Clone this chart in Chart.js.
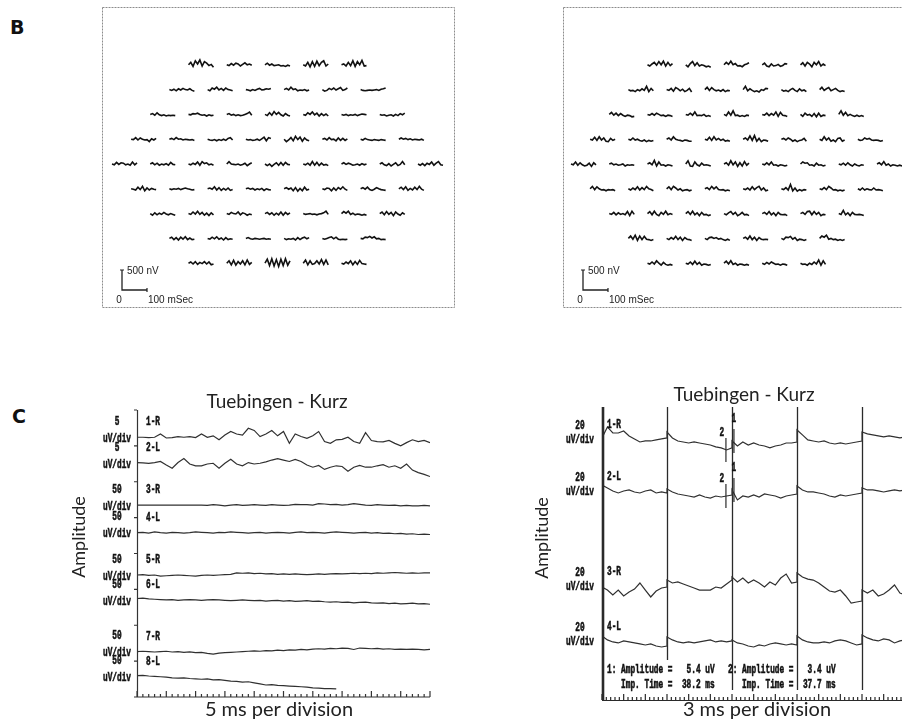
<!DOCTYPE html>
<html>
<head>
<meta charset="utf-8">
<title>mfERG and PERG recordings</title>
<script src="https://cdn.jsdelivr.net/npm/chart.js@4.4.1/dist/chart.umd.min.js"></script>
<style>
  html, body { margin: 0; padding: 0; background: #fff; }
  #page { position: relative; width: 902px; height: 721px; overflow: hidden; }
  #page canvas { position: absolute; }
  .panel-letter { position: absolute; font: bold 19px "DejaVu Sans", Arial, sans-serif; color: #111; line-height: 19px; }
</style>
</head>
<body>
<div id="page">
  <div class="panel-letter" style="left:10px;top:18px">B</div>
  <div class="panel-letter" style="left:12px;top:407px">C</div>
  <canvas id="mfLeft" width="353" height="301" style="left:102px;top:7px"></canvas>
  <canvas id="mfRight" width="353" height="301" style="left:563px;top:7px"></canvas>
  <canvas id="pLeft" width="460" height="361" style="left:0;top:360px"></canvas>
  <canvas id="pRight" width="480" height="361" style="left:460px;top:360px"></canvas>
</div>
<script>
// ---- B: multifocal responses in nV, one array per hexagon (100 ms each), rows top -> bottom
const mfLeftRows = [
  [[0,60,-40,100,20,120,-30,80,40,-20,10,-60],[0,-20,30,-10,40,20,-30,10,50,0,20,-10],[0,40,-10,20,-20,-10,0,-30,-20,-40,-10,-30],[0,-30,60,-50,80,-40,90,-20,60,100,-30,20],[0,20,-30,60,-20,100,-40,80,0,110,-30,-20]],
  [[0,-20,10,-30,20,-10,30,0,-10,20,-20,-40],[0,-30,40,10,60,-10,30,-20,40,0,-10,-30],[0,-10,-30,0,-20,10,30,-10,0,20,10,30],[0,30,-10,60,0,20,-30,-10,-20,0,-30,-10],[0,-40,-20,30,0,40,-10,20,50,-20,0,40],[0,-20,-30,-20,-10,-20,-10,0,-20,10,20,40]],
  [[0,20,-20,40,-10,-30,-10,-40,-20,-30,-20,-30],[0,-10,20,10,30,0,-20,-10,-40,-10,-30,-20],[0,20,-20,0,-30,-10,-30,-20,0,20,60,-20],[0,-30,40,-20,70,0,50,-10,-40,20,-20,-40],[0,-20,40,0,60,-10,30,-40,20,-30,10,-40],[0,-20,0,-30,-10,-20,0,-30,-10,10,0,-10],[0,-20,-10,-40,-20,-10,-40,0,-30,20,-10,30]],
  [[0,-10,40,-20,30,0,-20,-10,-60,10,-20,20],[0,20,-10,40,0,10,-20,0,-10,-20,-10,-30],[0,-20,-30,-10,-40,-10,-30,0,-30,20,40,-20],[0,-20,-10,-30,-20,0,-30,10,50,-40,40,20],[0,-60,-20,40,-40,70,-10,50,-50,30,-20,-40],[0,20,-20,40,-10,0,-40,30,-30,20,-30,10],[0,-20,20,-10,-20,-30,-10,-20,-30,-10,-20,-30],[0,30,0,20,-10,10,-20,0,-10,-20,0,-30]],
  [[0,-20,40,-10,30,20,-20,0,-30,50,-20,30],[0,30,-20,20,-30,0,-20,10,-30,40,-10,-20],[0,-20,20,-10,50,-30,60,10,30,-20,0,-30],[0,60,0,-10,-20,0,-30,-10,20,-40,0,30],[0,-40,0,-60,-10,30,-30,40,-30,40,-10,-20],[0,-20,20,-30,60,-30,40,-40,20,-30,-10,-40],[0,30,-10,20,0,-30,-20,0,-30,10,-20,0],[0,30,-20,-40,10,-50,-10,30,-40,-10,60,-20],[0,-30,10,-40,20,-10,50,-30,20,60,-20,-30]],
  [[0,-10,-30,40,-20,60,-50,20,-30,10,-10,-20],[0,-20,0,-10,10,-20,0,20,0,-10,-30,-20],[0,20,-10,50,-30,30,-40,10,-30,20,-40,-20],[0,20,-10,10,-30,0,-20,10,-40,0,-20,-30],[0,30,-10,20,-50,30,-60,10,-50,40,-30,-10],[0,-20,20,10,-50,20,-40,30,-10,50,-10,-40],[0,30,-10,40,-20,-40,-10,30,0,-20,-30,-40],[0,40,-20,50,-40,10,-30,40,-20,60,-10,-40]],
  [[0,-40,20,-30,10,-20,30,-10,-30,0,-20,-40],[0,-20,40,-10,60,-20,30,-40,10,-50,20,-30],[0,-20,30,0,-10,40,-30,20,0,-40,-10,-30],[0,30,-20,20,-40,10,-30,40,-40,30,-20,20],[0,-20,-10,0,-20,-10,-30,-10,0,20,60,-20],[0,50,10,60,-20,10,-30,-10,-20,-40,-20,-40],[0,40,-30,50,-20,30,-50,40,-10,-40,20,-20]],
  [[0,30,-30,20,-40,30,-20,40,-30,10,-30,-20],[0,-20,30,-10,40,-20,10,-40,20,-30,-10,-20],[0,20,-10,-20,0,-10,-20,-10,0,-20,-10,-20],[0,-30,-10,-20,0,-40,20,-30,10,30,-10,20],[0,-20,0,20,40,-10,30,-20,-30,-20,-30,-20],[0,-10,30,20,50,10,40,-10,0,-30,-20,-30]],
  [[0,30,-20,40,-30,20,-10,40,-20,30,-40,-20],[0,60,-40,70,-50,40,-20,60,-40,80,-30,20],[0,100,-60,110,-70,90,-80,100,-60,110,-50,60],[0,80,-40,60,-30,-10,60,-20,90,-30,80,-40],[0,-20,30,-10,60,-40,40,-30,70,-10,-20,-30]]
];
const mfRightRows = [
  [[0,-30,20,60,-10,80,0,90,-30,60,-20,30],[0,-50,30,80,-20,50,-30,0,-20,-50,-30,-60],[0,60,10,90,0,30,-30,-20,-50,0,20,50],[0,40,-30,-50,20,-30,-20,10,-40,-20,30,20],[0,50,-30,60,20,-50,60,0,80,-30,20,-20]],
  [[0,-30,-20,-50,0,-30,20,-20,80,-50,30,-30],[0,-20,30,-40,50,20,-30,10,-50,-20,30,-60],[0,60,-20,50,0,-30,-10,-40,0,-50,-20,-30],[0,80,-30,20,-20,-50,-30,-60,0,-20,30,20],[0,-40,-20,-50,0,30,-20,-50,20,-30,-10,-50],[0,60,-20,20,50,-30,0,30,-20,-50,-30,-50]],
  [[0,50,-20,30,-30,20,-20,-50,-20,-30,-60,-50],[0,-20,20,-20,30,0,-30,-20,-50,-20,-30,-50],[0,-20,30,-20,60,-30,-20,-30,0,-50,-30,-50],[0,-30,60,-20,90,-30,-20,-50,-30,-50,-20,-30],[0,-20,30,-30,20,-20,60,-50,50,-20,-30,-50],[0,-50,30,-20,0,-50,20,-60,30,-50,-20,-30],[0,90,-20,50,-30,0,-30,-50,-20,-50,-30,-50]],
  [[0,-20,50,-30,60,-20,30,-50,-60,20,-30,0],[0,-20,30,-20,0,-30,-50,-20,-60,-30,-50,-30],[0,30,-20,60,0,-20,-30,-50,-20,-30,-50,-50],[0,-20,50,-30,60,-20,20,-30,0,-50,-30,-50],[0,30,-20,80,-30,90,-50,20,-60,-20,-30,-50],[0,20,-20,30,0,-50,-20,-60,-30,-20,20,-50],[0,-30,60,-20,30,-50,-20,-60,20,30,-50,-20],[0,-30,-20,30,0,20,-20,-30,-20,-30,-50,-30]],
  [[0,-20,50,-30,30,-20,-50,-30,20,-60,30,-20],[0,20,-20,0,-30,-20,0,-50,-20,-30,-20,-30],[0,30,-20,90,-50,50,-30,-20,-50,-20,-30,-50],[0,80,-50,-60,50,-20,-50,20,-30,-20,-30,-50],[0,30,-30,80,-20,50,-60,30,-50,60,-30,20],[0,-20,30,-20,50,-30,-20,-50,-20,-30,-50,-30],[0,50,20,30,-30,-20,-50,20,-30,-20,-50,-30],[0,-20,20,-30,30,-20,-50,0,-30,-50,-20,-30],[0,30,-20,60,-30,0,-50,-20,-30,-50,-30,-50]],
  [[0,60,-20,50,0,-30,-20,-50,-20,-30,-20,-50],[0,-30,20,-20,50,-30,30,-20,60,0,-20,-50],[0,50,-20,60,20,-30,0,-50,-30,-20,-50,-30],[0,30,-20,60,0,50,-20,-30,-20,-50,-30,-50],[0,-20,20,-30,50,-20,30,60,-30,20,-50,-30],[0,-20,30,-30,110,-50,20,-60,-20,-50,-20,-30],[0,-20,30,-20,60,20,-30,-20,-50,-30,-50,-30],[0,-30,20,-30,0,-20,-30,20,-30,-20,-30,-50]],
  [[0,-20,30,-30,20,-20,0,-30,50,-50,60,-20],[0,50,-30,60,-20,-50,30,-20,60,-30,0,-20],[0,50,-20,60,-30,20,-50,30,-30,-20,-50,-30],[0,-30,20,50,-20,30,-50,-20,30,-30,-20,-50],[0,30,-20,50,-30,20,-50,30,-20,-30,-20,-50],[0,30,-20,50,60,-30,50,-20,30,-50,-20,-30],[0,-20,80,-30,20,-50,30,-20,-30,-20,-30,-50]],
  [[0,60,-20,80,-50,60,-30,50,-20,-30,-50,-30],[0,-30,20,-20,50,-30,30,-50,20,-20,-30,-50],[0,-30,20,30,0,20,-20,0,-30,-50,-20,-50],[0,30,-20,60,-30,30,-50,20,-20,-30,-20,-30],[0,-30,30,20,50,-20,20,-50,-20,-30,-50,-30],[0,60,30,80,-20,0,-30,-20,-50,-30,-50,-30]],
  [[0,-20,30,-20,60,0,-50,20,-30,-50,-30,-50],[0,-20,30,-30,50,-30,20,-50,-20,-30,-50,-30],[0,50,-20,60,-30,0,-50,-20,-30,-50,-30,-50],[0,-30,20,-20,30,0,-30,-20,-50,-20,-30,-50],[0,-30,-20,-50,0,-30,30,-20,80,-50,60,-30]]
];
const TRACE_MS = 100;
const SCALE_BAR_MS = 100;
const SCALE_BAR_NV = 500;

// ---- C left: 5 ms per division, uV sampled every 1 ms
const leftChannels = ['1-R', '2-L', '3-R', '4-L', '5-R', '6-L', '7-R', '8-L'];
const leftGains = [5, 5, 50, 50, 50, 50, 50, 50];
const left1R = [0,0,-0.1,0,0.9,-0.2,-0.1,0.2,0,0.2,-0.1,0.9,0,0.4,-0.7,0.6,1.6,0.9,0.6,2.5,1.9,0.2,0.9,1.9,0.4,1.6,-1.7,0.9,0.2,-0.3,0.4,1.6,-1.2,-1.7,-0.7,-0.6,0,-1.2,-1.7,1.3,-0.9,-1.2,-1.3,-0.9,-1.7,-2.4,-1.5,-0.7,-1.2,-0.9,-1.5];
const left2L = [0.2,0.1,0,0.2,0.5,-0.5,-1.4,0.2,1.3,-0.2,-0.7,-0.7,-0.2,0,-1.4,0,1.1,-0.2,-0.7,0.2,-0.2,0,0.4,0.9,1.3,0.9,0.5,1.1,0.5,-0.5,-1.1,-0.6,-1.7,-1.1,-0.7,-0.9,-2.2,-1.1,-0.6,-1.1,-1.1,-0.7,-0.4,-1.1,-0.7,-1.4,-0.2,-1.9,-2.6,-3.1,-3.7];
const left3R = [0,0,0,0,0,0,0,0,0,0,0,0,-1,1,0,-2,0,1,-1,0,1,0,-1,1,0,-1,0,2,1,1,0,4,3,1,2,0,1,4,2,0,-1,1,0,-1,0,-2,-1,-2,-2,-1,-2];
const left4L = [0,1,-1,2,0,-1,1,0,-1,0,2,1,0,-1,1,0,2,1,0,-1,0,1,-1,0,1,0,-1,1,2,0,1,0,-1,1,2,1,0,-1,0,1,-1,0,-2,-1,-3,-2,-4,-3,-5,-4,-5];
const left5R = [0,1,-1,0,-3,-2,-1,0,-1,-2,-3,-1,0,-1,0,1,2,6,5,6,4,5,3,4,2,3,2,3,2,1,2,3,2,3,4,3,4,5,4,5,4,6,5,6,7,6,5,6,5,6,6];
const left6L = [4,5,3,2,1,0,1,-1,0,1,0,-1,0,1,0,-1,-2,-1,0,-1,-2,-1,-3,-2,-1,-3,-2,-4,-3,-2,-4,-3,-5,-6,-5,-7,-6,-8,-7,-6,-8,-9,-8,-10,-9,-11,-10,-9,-11,-10,-12];
const left7R = [0,1,0,-1,0,1,-1,0,-2,-1,-3,-2,-5,-7,-4,-3,-2,-1,0,1,2,1,3,2,4,3,5,4,6,5,7,8,7,9,8,10,9,6,10,9,8,9,7,8,6,7,6,7,6,5,6];
const left8L = [3,4,2,1,0,-1,-3,-4,-3,-5,-6,-7,-6,-9,-8,-10,-12,-13,-15,-14,-17,-20,-23,-22,-24,-25,-26,-27,-28,-29,-31,-32,-33,-33,-34];
const leftTraces = [left1R, left2L, left3R, left4L, left5R, left6L, left7R, left8L];

// ---- C right: 3 ms per division, uV; one sub-array per 3 ms sweep, sampled every 0.25 ms
const rightChannels = ['1-R', '2-L', '3-R', '4-L'];
const rightGains = [20, 20, 20, 20];
const right1R = [
  [2.2,14.2,7.6,7.6,9.8,4.4,1.1,-2.2,-1.1,-1.1,0,1.1,2.2],
  [8.7,2.2,-1.1,-2.2,-3.3,-2.2,-3.3,-4.4,-5.5,-7.6,-8.7,-10.9,-8.7],
  [-1.1,-6.6,-2.2,-5.5,-3.3,-5.5,-6.6,-8.7,-6.6,-5.5,-3.3,-3.3,-2.2],
  [10.9,5.5,0,-1.1,-2.2,-1.1,-3.3,-4.4,-3.3,-4.4,-3.3,-2.2,-1.1],
  [8.7,6.6,5.5,4.4,3.3,4.4,3.3,2.2,3.3,2.2,3.3,2.2,2.2]
];
const right2L = [
  [7.6,4.4,1.1,-1.1,1.1,2.2,0,-1.1,1.1,2.2,-1.1,0,-1.1],
  [3.3,0,-2.2,-3.3,-4.4,-5.5,-3.3,-5.5,-6.6,-4.4,-5.5,-4.4,-3.3],
  [2.2,-8.7,-4.4,-5.5,-3.3,-5.5,-2.2,-3.3,-4.4,-6.6,-4.4,-3.3,-2.2],
  [6.6,2.2,0,0,-1.1,-2.2,-4.4,-5.5,-3.3,-4.4,-3.3,-2.2,-1.1],
  [4.4,2.2,2.2,1.1,0,1.1,2.2,1.1,2.2,1.1,2.2,1.1,2.2]
];
const right3R = [
  [0,-3.3,-8.7,-3.3,-9.8,-5.5,-2.2,4.4,-3.3,-10.9,-4.4,-1.1,0],
  [7.6,4.4,5.5,3.3,1.1,-1.1,-3.3,-3.3,-3.3,0,-1.1,3.3,7.6],
  [10.9,5.5,9.8,4.4,7.6,4.4,0,5.5,2.2,9.8,14.2,4.4,5.5],
  [15.3,10.9,8.7,7.6,4.4,0,-4.4,-5.5,-3.3,-9.8,-17.5,-16.4,-15.3],
  [-3.3,-6.6,-3.3,-9.8,-7.6,-3.3,2.2,-6.6,-8.7,-7.6,-5.5,-7.6,-6.6]
];
const right4L = [
  [6.6,2.2,0,-1.1,1.1,0,-1.1,-2.2,-3.3,-2.2,-4.4,-5.5,-4.4],
  [5.5,2.2,0,-1.1,0,-1.1,0,1.1,2.2,0,1.1,0,1.1],
  [2.2,-1.1,-2.2,-4.4,-5.5,-3.3,-4.4,-2.2,-1.1,-2.2,-3.3,-2.2,-3.3],
  [6.6,2.2,0,-1.1,-1.1,0,-1.1,1.1,2.2,1.1,-1.1,-3.3,-2.2],
  [7.6,4.4,2.2,1.1,3.3,2.2,-1.1,1.1,2.2,1.1,2.2,0,1.1]
];
const rightTraces = [right1R, right2L, right3R, right4L];
const cursorNames = ['1', '2'];
const cursorAt = [6.09, 5.72];        // ms on screen
const cursorAmps = [5.4, 3.4];        // uV
const cursorImpTimes = [38.2, 37.7];  // ms

// ---- layout
const MF = { widthMs: 1412, heightNv: 7525, gridYNv: 3600, colGapMs: 153, rowGapNv: 620, barXMs: 80, barYNv: 450 };
const LEFT_STEP_MS = 1, LEFT_SPAN_MS = 50;
const SWEEP_MS = 3, RIGHT_STEP_MS = 0.25, RIGHT_SPAN_MS = 15;
const leftRowsDiv = [14.48, 13.03, 10.70, 9.16, 6.80, 5.41, 2.53, 1.13];
const rightRowsDiv = [14.2, 11.36, 6.17, 3.17];
const INK = '#222';
const TITLE_FONT = '19px Lato, "Open Sans", sans-serif';

function line(points, color, width) {
  return { data: points, borderColor: color, borderWidth: width, pointRadius: 0, fill: false, tension: 0 };
}

function baseOptions(xmax, ymax, padding) {
  return {
    responsive: false, animation: false, events: [],
    layout: { padding },
    plugins: { legend: { display: false }, tooltip: { enabled: false }, title: { display: false } },
    scales: {
      x: { type: 'linear', display: false, min: 0, max: xmax },
      y: { type: 'linear', display: false, min: 0, max: ymax }
    }
  };
}

// narrow, tall bold mono like the recorder's printout
function monoText(ctx, text, x, y, align) {
  ctx.save();
  ctx.translate(x, y);
  ctx.scale(0.78, 1.28);
  ctx.font = 'bold 10px "Liberation Mono", "DejaVu Sans Mono", monospace';
  ctx.textAlign = align;
  ctx.textBaseline = 'middle';
  ctx.fillStyle = '#111';
  ctx.strokeStyle = '#111';
  ctx.lineWidth = 0.45;
  ctx.fillText(text, 0, 0);
  ctx.strokeText(text, 0, 0);
  ctx.restore();
}

function axisTexts(ctx, a, title, titleDx, titleDy, xLabel, xLabelDx, xLabelDy, ampDx, ampY) {
  ctx.fillStyle = INK;
  ctx.font = TITLE_FONT;
  ctx.textAlign = 'center';
  ctx.textBaseline = 'middle';
  ctx.fillText(title, a.left + titleDx, a.top + titleDy);
  ctx.font = '20px Lato, "Open Sans", sans-serif';
  ctx.fillText(xLabel, a.left + xLabelDx, a.bottom + xLabelDy);
  ctx.save();
  ctx.translate(a.left + ampDx, ampY);
  ctx.rotate(-Math.PI / 2);
  ctx.font = '18px Lato, "Open Sans", sans-serif';
  ctx.fillText('Amplitude', 0, 0);
  ctx.restore();
}

// ---- B panels
function mfChart(id, rows, centerMs) {
  const datasets = [];
  const mid = (rows.length - 1) / 2;
  rows.forEach((row, r) => {
    row.forEach((trace, c) => {
      const x0 = centerMs + (c - (row.length - 1) / 2) * MF.colGapMs - TRACE_MS / 2;
      const y0 = MF.gridYNv + (mid - r) * MF.rowGapNv;
      const dt = TRACE_MS / (trace.length - 1);
      datasets.push(line(trace.map((v, i) => ({ x: x0 + i * dt, y: y0 + v })), '#111', 1.6));
    });
  });
  datasets.push(line([
    { x: MF.barXMs, y: MF.barYNv + SCALE_BAR_NV },
    { x: MF.barXMs, y: MF.barYNv },
    { x: MF.barXMs + SCALE_BAR_MS, y: MF.barYNv }
  ], INK, 1.3));

  return new Chart(document.getElementById(id), {
    type: 'line',
    data: { datasets },
    options: baseOptions(MF.widthMs, MF.heightNv, 0),
    plugins: [{
      id: 'mfDecor',
      afterDatasetsDraw(chart) {
        const { ctx, chartArea: a, scales: { x, y } } = chart;
        ctx.save();
        ctx.strokeStyle = '#8c8c8c';
        ctx.lineWidth = 1;
        ctx.setLineDash([2, 1]);
        ctx.strokeRect(a.left + 0.5, a.top + 0.5, a.width - 1, a.height - 1);
        ctx.setLineDash([]);
        const bx = x.getPixelForValue(MF.barXMs), by = y.getPixelForValue(MF.barYNv);
        const bt = y.getPixelForValue(MF.barYNv + SCALE_BAR_NV), br = x.getPixelForValue(MF.barXMs + SCALE_BAR_MS);
        ctx.strokeStyle = INK;
        ctx.lineWidth = 1.2;
        ctx.beginPath();
        ctx.moveTo(bx - 2, bt); ctx.lineTo(bx + 2, bt);
        ctx.moveTo(br, by - 2); ctx.lineTo(br, by + 2);
        ctx.stroke();
        ctx.fillStyle = INK;
        ctx.font = '10px "Liberation Sans", Arial, sans-serif';
        ctx.textBaseline = 'middle';
        ctx.textAlign = 'left';
        ctx.fillText(SCALE_BAR_NV + ' nV', bx + 5, bt + 1);
        ctx.textAlign = 'center';
        ctx.fillText('0', bx - 3, by + 10);
        ctx.textAlign = 'left';
        ctx.fillText(SCALE_BAR_MS + ' mSec', br + 1, by + 10);
        ctx.restore();
      }
    }]
  });
}

mfChart('mfLeft', mfLeftRows, 702);
mfChart('mfRight', mfRightRows, 694);

// ---- C left panel
new Chart(document.getElementById('pLeft'), {
  type: 'line',
  data: {
    datasets: leftTraces.map((tr, k) =>
      line(tr.map((v, i) => ({ x: i * LEFT_STEP_MS, y: leftRowsDiv[k] + v / leftGains[k] })), '#303030', 1.2))
  },
  options: baseOptions(LEFT_SPAN_MS, 16, { left: 137, right: 30, top: 50, bottom: 24 }),
  plugins: [{
    id: 'leftDecor',
    afterDatasetsDraw(chart) {
      const { ctx, chartArea: a, scales: { x, y } } = chart;
      ctx.save();
      ctx.strokeStyle = '#333';
      ctx.lineWidth = 1.2;
      ctx.beginPath();
      ctx.moveTo(a.left + 0.5, a.top); ctx.lineTo(a.left + 0.5, a.bottom);
      ctx.lineTo(a.right, a.bottom);
      for (let d = 0; d <= 16; d += 2) {
        const py = y.getPixelForValue(d);
        ctx.moveTo(a.left - 3, py); ctx.lineTo(a.left, py);
      }
      for (let t = 0; t <= LEFT_SPAN_MS; t += 1) {
        const px = x.getPixelForValue(t);
        ctx.moveTo(px, a.bottom); ctx.lineTo(px, a.bottom - (t % 5 === 0 ? 6 : 3));
      }
      ctx.stroke();
      leftChannels.forEach((name, k) => {
        const py = y.getPixelForValue(leftRowsDiv[k]);
        monoText(ctx, String(leftGains[k]), a.left - 20, py - 15.5, 'center');
        monoText(ctx, 'uV/div', a.left - 20, py + 1.5, 'center');
        monoText(ctx, name, a.left + 9, py - 15, 'left');
      });
      axisTexts(ctx, a, 'Tuebingen - Kurz', 140, -8, '5 ms per division', 142, 13, -58, 177);
      ctx.restore();
    }
  }]
});

// ---- C right panel
function rightPoints(sweeps, k) {
  return sweeps.flatMap((sw, s) => sw.map((v, i) => ({
    x: s * SWEEP_MS + i * RIGHT_STEP_MS,
    y: rightRowsDiv[k] + v / rightGains[k]
  })));
}
function valueAt(sweeps, t) {
  const s = Math.min(Math.floor(t / SWEEP_MS), sweeps.length - 1);
  const i = Math.round((t - s * SWEEP_MS) / RIGHT_STEP_MS);
  return sweeps[s][i];
}

new Chart(document.getElementById('pRight'), {
  type: 'line',
  data: { datasets: rightTraces.map((sw, k) => line(rightPoints(sw, k), '#303030', 1.2)) },
  options: baseOptions(RIGHT_SPAN_MS, 16, { left: 142, right: 13, top: 47, bottom: 21 }),
  plugins: [{
    id: 'rightGrid',
    beforeDatasetsDraw(chart) {
      const { ctx, chartArea: a, scales: { x } } = chart;
      ctx.save();
      ctx.strokeStyle = '#2a2a2a';
      ctx.lineWidth = 1.3;
      ctx.beginPath();
      for (let t = SWEEP_MS; t < RIGHT_SPAN_MS; t += SWEEP_MS) {
        const px = Math.round(x.getPixelForValue(t)) + 0.5;
        ctx.moveTo(px, a.top); ctx.lineTo(px, a.bottom - 10);
      }
      ctx.stroke();
      ctx.restore();
    }
  }, {
    id: 'rightDecor',
    afterDatasetsDraw(chart) {
      const { ctx, chartArea: a, scales: { x, y } } = chart;
      ctx.save();
      ctx.strokeStyle = '#2a2a2a';
      ctx.lineWidth = 1.2;
      ctx.beginPath();
      ctx.moveTo(a.left, a.bottom + 0.5); ctx.lineTo(a.right, a.bottom + 0.5);
      for (let k = 0; k * 0.2 <= RIGHT_SPAN_MS + 1e-6; k++) {
        const px = x.getPixelForValue(k * 0.2);
        ctx.moveTo(px, a.bottom); ctx.lineTo(px, a.bottom - (k % 5 === 0 ? 6 : 3));
      }
      ctx.stroke();
      ctx.lineWidth = 2.6;
      ctx.beginPath();
      ctx.moveTo(a.left + 1, a.top); ctx.lineTo(a.left + 1, a.bottom);
      ctx.stroke();

      // cursors on the first two channels
      ctx.lineWidth = 1.2;
      [0, 1].forEach(k => {
        cursorAt.forEach((t, c) => {
          const px = x.getPixelForValue(t);
          const py = y.getPixelForValue(rightRowsDiv[k] + valueAt(rightTraces[k], t) / rightGains[k]);
          ctx.strokeStyle = '#2a2a2a';
          ctx.lineWidth = 1.2;
          ctx.beginPath();
          ctx.moveTo(px, py - 12); ctx.lineTo(px, py + 12);
          ctx.stroke();
          monoText(ctx, cursorNames[c], px + (c === 0 ? 0 : -4), py - (c === 0 ? 22 : 17), 'center');
        });
      });

      // channel labels
      rightChannels.forEach((name, k) => {
        const py = y.getPixelForValue(rightRowsDiv[k]);
        monoText(ctx, String(rightGains[k]), a.left - 22, py - 14, 'center');
        monoText(ctx, 'uV/div', a.left - 22, py, 'center');
        monoText(ctx, name, a.left + 5, py - 15, 'left');
      });

      // cursor readouts
      const boxLeft = [a.left + 5, a.left + 126];
      cursorNames.forEach((n, c) => {
        if (c === 0) {
          ctx.fillStyle = '#fff';
          ctx.fillRect(boxLeft[c] - 2, a.bottom - 40, 112, 31);
        }
        monoText(ctx, n + ': Amplitude =   ' + cursorAmps[c].toFixed(1) + ' uV', boxLeft[c], a.bottom - 30, 'left');
        monoText(ctx, '   Imp. Time =  ' + cursorImpTimes[c].toFixed(1) + ' ms', boxLeft[c], a.bottom - 15, 'left');
      });

      axisTexts(ctx, a, 'Tuebingen - Kurz', 142, -12, '3 ms per division', 155, 10, -60, 178);
      ctx.restore();
    }
  }]
});
</script>
</body>
</html>
